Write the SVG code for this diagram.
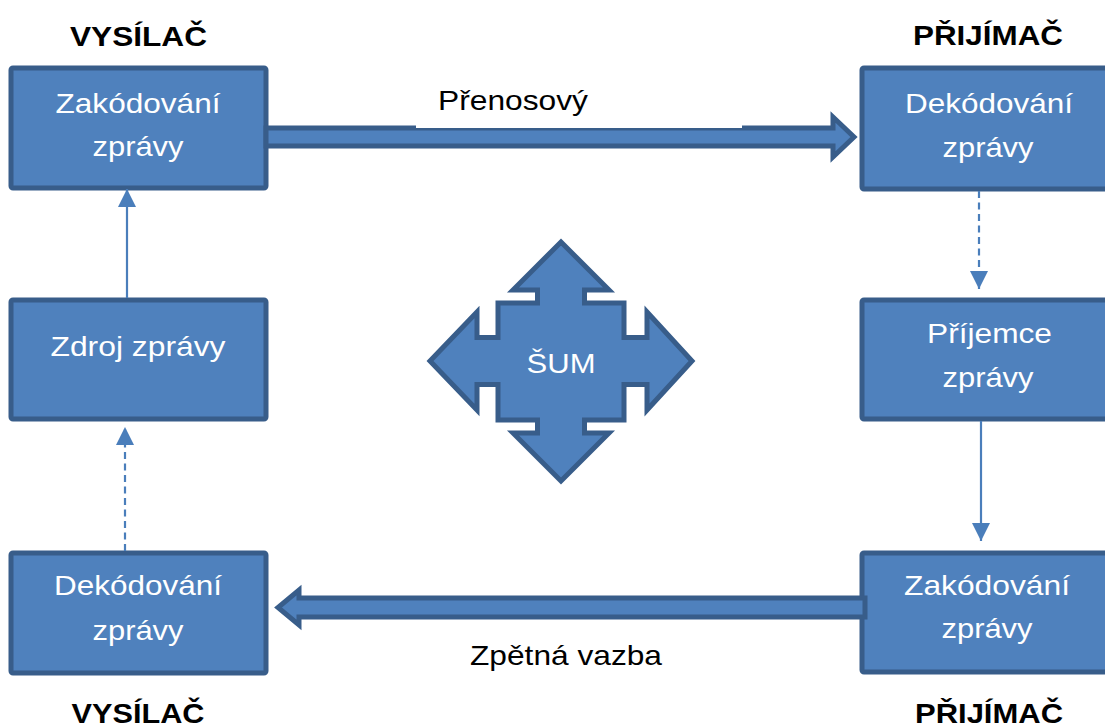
<svg xmlns="http://www.w3.org/2000/svg" width="1105" height="727" viewBox="0 0 1105 727">
<defs>
<style>
.box{fill:#4F81BD;stroke:#385D8A;stroke-width:5}
.bt{font-family:"Liberation Sans",Arial,sans-serif;font-size:28.5px;fill:#FFFFFF;text-anchor:middle}
.title{font-family:"Liberation Sans",Arial,sans-serif;font-size:28px;font-weight:bold;fill:#000000;text-anchor:middle}
.lbl{font-family:"Liberation Sans",Arial,sans-serif;font-size:28px;fill:#000000;text-anchor:middle}
.block{fill:#4F81BD;stroke:#385D8A;stroke-width:5;stroke-linejoin:miter}
.line{stroke:#4A7EBB;stroke-width:2.2;fill:none}
.dash{stroke-dasharray:7 4.5}
</style>
<marker id="ah" markerUnits="userSpaceOnUse" markerWidth="18" markerHeight="18" viewBox="0 0 16 16" refX="16" refY="8" orient="auto">
<path d="M0,0 L16,8 L0,16 Z" fill="#4A7EBB"/>
</marker>
</defs>
<rect width="1105" height="727" fill="#FFFFFF"/>

<g id="titles">
<text class="title" x="138.5" y="46" textLength="137" lengthAdjust="spacingAndGlyphs">VYSÍLAČ</text>
<text class="title" x="988" y="45" textLength="150" lengthAdjust="spacingAndGlyphs">PŘIJÍMAČ</text>
<text class="title" x="138" y="723" textLength="133" lengthAdjust="spacingAndGlyphs">VYSÍLAČ</text>
<text class="title" x="989" y="723" textLength="148" lengthAdjust="spacingAndGlyphs">PŘIJÍMAČ</text>
</g>

<g id="node-tl">
<rect class="box" x="11" y="68" width="255" height="120" rx="2"/>
<text class="bt" x="138" y="113" textLength="165" lengthAdjust="spacingAndGlyphs">Zakódování</text>
<text class="bt" x="138" y="156" textLength="91" lengthAdjust="spacingAndGlyphs">zprávy</text>
</g>
<g id="node-lm">
<rect class="box" x="11" y="300" width="255" height="119" rx="2"/>
<text class="bt" x="138" y="356" textLength="175" lengthAdjust="spacingAndGlyphs">Zdroj zprávy</text>
</g>
<g id="node-lb">
<rect class="box" x="11" y="553" width="255" height="120" rx="2"/>
<text class="bt" x="138" y="595" textLength="168" lengthAdjust="spacingAndGlyphs">Dekódování</text>
<text class="bt" x="138" y="640" textLength="91" lengthAdjust="spacingAndGlyphs">zprávy</text>
</g>
<g id="node-tr">
<rect class="box" x="862" y="68" width="255" height="121" rx="2"/>
<text class="bt" x="989" y="113" textLength="168" lengthAdjust="spacingAndGlyphs">Dekódování</text>
<text class="bt" x="988" y="157" textLength="91" lengthAdjust="spacingAndGlyphs">zprávy</text>
</g>
<g id="node-rm">
<rect class="box" x="862" y="300" width="255" height="119" rx="2"/>
<text class="bt" x="989.5" y="343" textLength="125" lengthAdjust="spacingAndGlyphs">Příjemce</text>
<text class="bt" x="988" y="387" textLength="91" lengthAdjust="spacingAndGlyphs">zprávy</text>
</g>
<g id="node-rb">
<rect class="box" x="862" y="553" width="255" height="119" rx="2"/>
<text class="bt" x="987" y="595" textLength="166" lengthAdjust="spacingAndGlyphs">Zakódování</text>
<text class="bt" x="987" y="638" textLength="91" lengthAdjust="spacingAndGlyphs">zprávy</text>
</g>

<g id="node-sum">
<path class="block" d="M561,242 L609,290 L584.5,290 L584.5,303 L624,303 L624,337.5 L647,337.5 L647,312 L692,361 L647,410 L647,384.5 L624,384.5 L624,420 L584.5,420 L584.5,433 L609,433 L561,481 L513,433 L537.5,433 L537.5,420 L498,420 L498,384.5 L477,384.5 L477,410 L430,361 L477,312 L477,337.5 L498,337.5 L498,303 L537.5,303 L537.5,290 L513,290 Z"/>
<text class="bt" x="561" y="373" textLength="69" lengthAdjust="spacingAndGlyphs">ŠUM</text>
</g>

<g id="connectors">
<path class="block" d="M266,128 L833,128 L833,117 L854,137 L833,157 L833,146 L266,146 Z"/>
<rect x="416" y="84" width="326" height="44" fill="#FFFFFF"/>
<text class="lbl" x="513" y="110" textLength="150" lengthAdjust="spacingAndGlyphs">Přenosový</text>
<path class="block" d="M865,598 L299,598 L299,590 L278,607.5 L299,625 L299,617 L865,617 Z"/>
<text class="lbl" x="566" y="665" textLength="192" lengthAdjust="spacingAndGlyphs">Zpětná vazba</text>
<line class="line" x1="127" y1="298" x2="127" y2="189" marker-end="url(#ah)"/>
<line class="line dash" x1="125" y1="551" x2="125" y2="427" marker-end="url(#ah)"/>
<line class="line dash" x1="979" y1="191" x2="979" y2="289" marker-end="url(#ah)"/>
<line class="line" x1="981" y1="421" x2="981" y2="541" marker-end="url(#ah)"/>
</g>
</svg>
